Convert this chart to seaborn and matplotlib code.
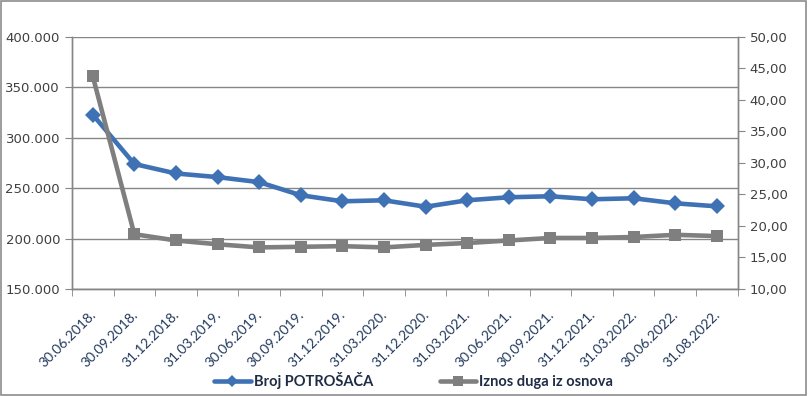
import numpy as np
import pandas as pd
import seaborn as sns
import matplotlib.pyplot as plt
import matplotlib.transforms as mtransforms
from matplotlib.ticker import FuncFormatter, FixedLocator
from matplotlib.patches import Rectangle

# dates on the category axis
dates = ['30.06.2018.', '30.09.2018.', '31.12.2018.', '31.03.2019.', '30.06.2019.',
         '30.09.2019.', '31.12.2019.', '31.03.2020.', '31.12.2020.', '31.03.2021.',
         '30.06.2021.', '30.09.2021.', '31.12.2021.', '31.03.2022.', '30.06.2022.',
         '31.08.2022.']

# Broj POTROŠAČA (left axis)
potrosaci = [323000, 274000, 264600, 261000, 256000, 243000, 237000, 238000,
             231600, 238000, 241000, 242000, 239000, 240000, 235000, 232000]

# Iznos duga iz osnova (right axis)
dug = [43.8, 18.7, 17.7, 17.1, 16.6, 16.7, 16.8, 16.6,
       17.0, 17.3, 17.7, 18.1, 18.1, 18.25, 18.6, 18.4]

label1 = 'Broj POTROŠAČA'
label2 = 'Iznos duga iz osnova'

df = pd.DataFrame({'pos': np.arange(len(dates)), 'potrosaci': potrosaci, 'dug': dug})

sns.set_style('white')
plt.rcParams['font.family'] = ['DejaVu Sans']

blue = '#3E72B5'
gray = '#7F7F7F'
axcol = '#868686'
txt = '#404040'

fig = plt.figure(figsize=(8.08, 3.96), dpi=100)
ax = fig.add_axes([0.089, 0.2702, 0.824, 0.6364])
ax2 = ax.twinx()

sns.lineplot(data=df, x='pos', y='potrosaci', ax=ax, color=blue, lw=3.3,
             marker='D', markersize=8.5, markeredgewidth=0, label=label1, legend=False)
sns.lineplot(data=df, x='pos', y='dug', ax=ax2, color=gray, lw=3.3,
             marker='s', markersize=9, markeredgewidth=0, label=label2, legend=False)

ax.set_xlim(-0.5, len(dates) - 0.5)
ax.set_ylim(150000, 400000)
ax.set_yticks(np.arange(150000, 400001, 50000))
ax.yaxis.set_major_formatter(FuncFormatter(lambda v, p: f'{int(v):,}'.replace(',', '.')))
ax2.set_ylim(10, 50)
ax2.set_yticks(np.arange(10, 50.1, 5))
ax2.yaxis.set_major_formatter(FuncFormatter(lambda v, p: f'{v:.2f}'.replace('.', ',')))

ax.set_xticks(df['pos'])
ax.set_xticklabels(dates, rotation=45, ha='right', va='top', rotation_mode='anchor',
                   fontsize=10, color='#22395C', fontfamily='Lato')
ax.tick_params(axis='x', which='major', length=0, pad=14)
shift = mtransforms.ScaledTranslation(-3 / 100, 0, fig.dpi_scale_trans)
for lab in ax.get_xticklabels():
    lab.set_transform(lab.get_transform() + shift)
ax.xaxis.set_minor_locator(FixedLocator(np.arange(-0.5, len(dates), 1)))
ax.tick_params(axis='x', which='minor', length=5, color=axcol, direction='out', bottom=True)

ax.tick_params(axis='y', length=5, color=axcol, direction='out', labelsize=9.5,
               labelcolor=txt, left=True)
ax2.tick_params(axis='y', length=5, color=axcol, direction='out', labelsize=9.5,
                labelcolor=txt, right=True)

ax.set_xlabel('')
ax.set_ylabel('')
ax2.set_xlabel('')
ax2.set_ylabel('')

ax.grid(axis='y', color=axcol, lw=1)
ax.set_axisbelow(True)
for a in (ax, ax2):
    a.spines['top'].set_visible(False)
    for s in ('left', 'right', 'bottom'):
        a.spines[s].set_color(axcol)
        a.spines[s].set_linewidth(1)

h1, l1 = ax.get_legend_handles_labels()
h2, l2 = ax2.get_legend_handles_labels()
fig.legend(h1 + h2, l1 + l2, loc='center', bbox_to_anchor=(0.512, 0.04), ncol=2,
           frameon=False, handlelength=2.5, columnspacing=4.6, handletextpad=0.2,
           markerscale=0.75,
           prop={'family': 'Lato', 'weight': 'bold', 'size': 10.5}, labelcolor='#1F2D45')

fig.add_artist(Rectangle((0.001, 0.002), 0.997, 0.995, transform=fig.transFigure,
                         fill=False, edgecolor='#8C8C8C', lw=1.2))

fig.savefig('out.png', dpi=100)
